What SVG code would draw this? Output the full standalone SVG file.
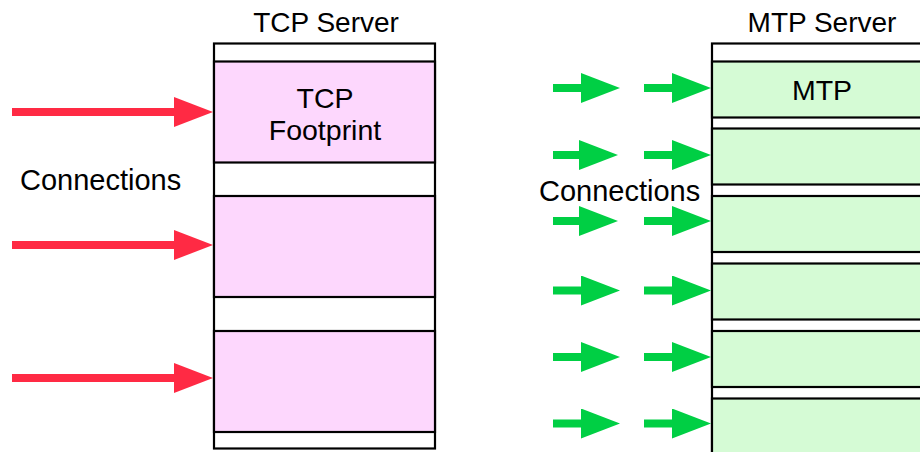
<svg xmlns="http://www.w3.org/2000/svg" width="920" height="452" viewBox="0 0 920 452">
  <defs>
    <style>
      .label { font-family: "Liberation Sans", Arial, sans-serif; fill: #000; }
      .title { font-size: 28px; text-anchor: middle; }
      .inner { font-size: 28.5px; text-anchor: middle; }
      .conn { font-size: 29px; }
      .frame { fill: #fff; stroke: #000; stroke-width: 2.2; }
      .tcp { fill: #fdd7fd; stroke: #000; stroke-width: 2.2; }
      .mtp { fill: #d5fbd5; stroke: #000; stroke-width: 2.2; }
      .red { stroke: #ff2a44; stroke-width: 8; fill: none; marker-end: url(#headRed); }
      .green { stroke: #00cf44; stroke-width: 8; fill: none; marker-end: url(#headGreen); }
    </style>
    <marker id="headRed" markerUnits="userSpaceOnUse" markerWidth="40" markerHeight="30" refX="1" refY="15" orient="auto">
      <path d="M0,0 L39,15 L0,30 Z" fill="#ff2a44"/>
    </marker>
    <marker id="headGreen" markerUnits="userSpaceOnUse" markerWidth="40" markerHeight="30" refX="1" refY="15" orient="auto">
      <path d="M0,0 L39,15 L0,30 Z" fill="#00cf44"/>
    </marker>
  </defs>

  <rect width="920" height="452" fill="#fff"/>

  <!-- TCP server stack -->
  <g id="tcp-server">
    <text class="label title" x="326" y="32">TCP Server</text>
    <rect class="frame" x="214" y="43.5" width="221" height="405"/>
    <rect class="tcp" x="214" y="61.5" width="221" height="101"/>
    <rect class="tcp" x="214" y="196" width="221" height="101"/>
    <rect class="tcp" x="214" y="331" width="221" height="101"/>
    <text class="label inner" x="325" y="108">TCP</text>
    <text class="label inner" x="325" y="139.5">Footprint</text>
  </g>

  <!-- MTP server stack -->
  <g id="mtp-server">
    <text class="label title" x="822" y="32">MTP Server</text>
    <rect class="frame" x="712" y="43.5" width="221" height="420"/>
    <rect class="mtp" x="712" y="61.5" width="221" height="56"/>
    <rect class="mtp" x="712" y="128.5" width="221" height="56"/>
    <rect class="mtp" x="712" y="196" width="221" height="56"/>
    <rect class="mtp" x="712" y="263.5" width="221" height="56"/>
    <rect class="mtp" x="712" y="331" width="221" height="56"/>
    <rect class="mtp" x="712" y="398.5" width="221" height="70"/>
    <text class="label inner" x="822" y="100">MTP</text>
  </g>

  <g id="tcp-label">
    <text class="label conn" x="20" y="190">Connections</text>
  </g>
  <g id="mtp-label">
    <text class="label conn" x="539" y="201">Connections</text>
  </g>

  <!-- connection arrows -->
  <g id="connectors">
    <line class="red" x1="12" y1="112" x2="175" y2="112"/>
    <line class="red" x1="12" y1="245" x2="175" y2="245"/>
    <line class="red" x1="12" y1="378" x2="175" y2="378"/>

    <line class="green" x1="553" y1="88" x2="582" y2="88"/>
    <line class="green" x1="644" y1="88" x2="673" y2="88"/>
    <line class="green" x1="553" y1="155" x2="580" y2="155"/>
    <line class="green" x1="644" y1="155" x2="673" y2="155"/>
    <line class="green" x1="553" y1="221" x2="580" y2="221"/>
    <line class="green" x1="644" y1="221" x2="673" y2="221"/>
    <line class="green" x1="553" y1="290.5" x2="582" y2="290.5"/>
    <line class="green" x1="644" y1="290.5" x2="673" y2="290.5"/>
    <line class="green" x1="553" y1="357" x2="582" y2="357"/>
    <line class="green" x1="644" y1="357" x2="673" y2="357"/>
    <line class="green" x1="553" y1="423.5" x2="582" y2="423.5"/>
    <line class="green" x1="644" y1="423.5" x2="673" y2="423.5"/>
  </g>
</svg>
